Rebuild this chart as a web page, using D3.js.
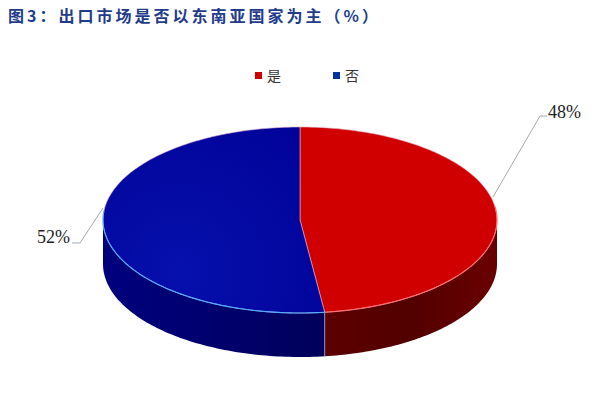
<!DOCTYPE html>
<html lang="zh">
<head>
<meta charset="utf-8">
<title>出口市场是否以东南亚国家为主</title>
<style>
  body { margin: 0; background: #fff; }
  svg { display: block; }
</style>
</head>
<body>
<div id="chart"></div>
<script src="https://d3js.org/d3.v7.min.js"></script>
<script>
  // data
  const categories = ["是", "否"];
  const values = [48, 52];
  const labels = ["48%", "52%"];

  const width = 600, height = 404;
  const cx = 300, cy = 220, rx = 197, ry = 93, depth = 44;

  const svg = d3.select("#chart").append("svg")
    .attr("width", width)
    .attr("height", height);

  const defs = svg.append("defs");

  function grad(id, stops, x1, x2) {
    const g = defs.append("linearGradient").attr("id", id)
      .attr("gradientUnits", "userSpaceOnUse")
      .attr("x1", x1).attr("x2", x2).attr("y1", 0).attr("y2", 0);
    stops.forEach(s => g.append("stop").attr("offset", s[0]).attr("stop-color", s[1]));
  }
  grad("sideRed", [[0, "#5c0000"], [0.5, "#520000"], [1, "#6a0000"]], 325, 497);
  grad("sideBlue", [[0, "#00007e"], [0.6, "#00006a"], [1, "#00005a"]], 103, 325);
  const tb = defs.append("radialGradient").attr("id", "topBlue")
    .attr("gradientUnits", "userSpaceOnUse")
    .attr("cx", 180).attr("cy", 270).attr("r", 220);
  tb.append("stop").attr("offset", 0).attr("stop-color", "#0610ac");
  tb.append("stop").attr("offset", 1).attr("stop-color", "#000094");

  const topFill = ["#d00000", "url(#topBlue)"];
  const sideFill = ["url(#sideRed)", "url(#sideBlue)"];
  const edgeCol = ["#ff7070", "#4fb0ff"];

  const pie = d3.pie().sort(null).value(d => d);
  const arcs = pie(values);

  // angle measured clockwise from 12 o'clock
  const px = a => cx + rx * Math.sin(a);
  const py = a => cy - ry * Math.cos(a);
  const line = d3.line();

  function ring(a0, a1, dy) {
    const n = Math.max(2, Math.ceil((a1 - a0) / 0.02));
    return d3.range(n + 1).map(i => {
      const a = a0 + (a1 - a0) * i / n;
      return [px(a), py(a) + dy];
    });
  }

  // side walls (front half only: PI/2 .. 3PI/2)
  arcs.forEach((d, i) => {
    const a0 = Math.max(d.startAngle, Math.PI / 2);
    const a1 = Math.min(d.endAngle, Math.PI * 1.5);
    if (a1 <= a0) return;
    const pts = ring(a0, a1, 0).concat(ring(a0, a1, depth).reverse());
    svg.append("path")
      .attr("d", line(pts) + "Z")
      .attr("fill", sideFill[i]);
  });

  // seam on side between slices
  arcs.forEach(d => {
    const a = d.endAngle;
    if (a > Math.PI / 2 && a < Math.PI * 1.5) {
      svg.append("line")
        .attr("x1", px(a)).attr("y1", py(a))
        .attr("x2", px(a)).attr("y2", py(a) + depth)
        .attr("stroke", "#8fa8e8").attr("stroke-width", 0.8);
    }
  });

  // top faces
  arcs.forEach((d, i) => {
    const pts = [[cx, cy]].concat(ring(d.startAngle, d.endAngle, 0));
    svg.append("path")
      .attr("d", line(pts) + "Z")
      .attr("fill", topFill[i])
      .attr("stroke", "#e8b0c8")
      .attr("stroke-width", 0.6);
  });

  // light rim on front edge of top
  arcs.forEach((d, i) => {
    const a0 = Math.max(d.startAngle, Math.PI / 2 - 0.15);
    const a1 = Math.min(d.endAngle, Math.PI * 1.5 + 0.1);
    if (a1 <= a0) return;
    svg.append("path")
      .attr("d", line(ring(a0, a1, 0)))
      .attr("fill", "none")
      .attr("stroke", edgeCol[i])
      .attr("stroke-width", 1.1);
  });

  // leader lines + labels
  const leaders = [
    [[493, 197], [540, 116], [547, 116]],
    [[103, 208], [80, 243], [72, 243]]
  ];
  leaders.forEach(p => {
    svg.append("path").attr("d", line(p))
      .attr("fill", "none").attr("stroke", "#a8a8a8").attr("stroke-width", 1);
  });
  svg.append("text").attr("x", 548).attr("y", 118).text(labels[0])
    .attr("font-family", "Liberation Serif, serif").attr("font-size", 18).attr("fill", "#222");
  svg.append("text").attr("x", 70).attr("y", 243).attr("text-anchor", "end").text(labels[1])
    .attr("font-family", "Liberation Serif, serif").attr("font-size", 18).attr("fill", "#222");

  // legend
  const legX = [255, 333];
  const legColor = ["#d00000", "#0033a0"];
  categories.forEach((c, i) => {
    svg.append("rect").attr("x", legX[i]).attr("y", 72).attr("width", 7).attr("height", 7)
      .attr("fill", legColor[i]);
    svg.append("text").attr("x", legX[i] + 12).attr("y", 81).text(c)
      .attr("font-family", "Noto Sans CJK SC").attr("font-size", 14).attr("fill", "#333");
  });

  // title
  svg.append("text")
    .attr("x", 8).attr("y", 22)
    .attr("textLength", 370)
    .attr("font-family", "Noto Sans CJK SC")
    .attr("font-weight", "bold")
    .attr("font-size", 16)
    .attr("fill", "#1f3c8c")
    .text("图3：出口市场是否以东南亚国家为主（%）");
</script>
</body>
</html>
